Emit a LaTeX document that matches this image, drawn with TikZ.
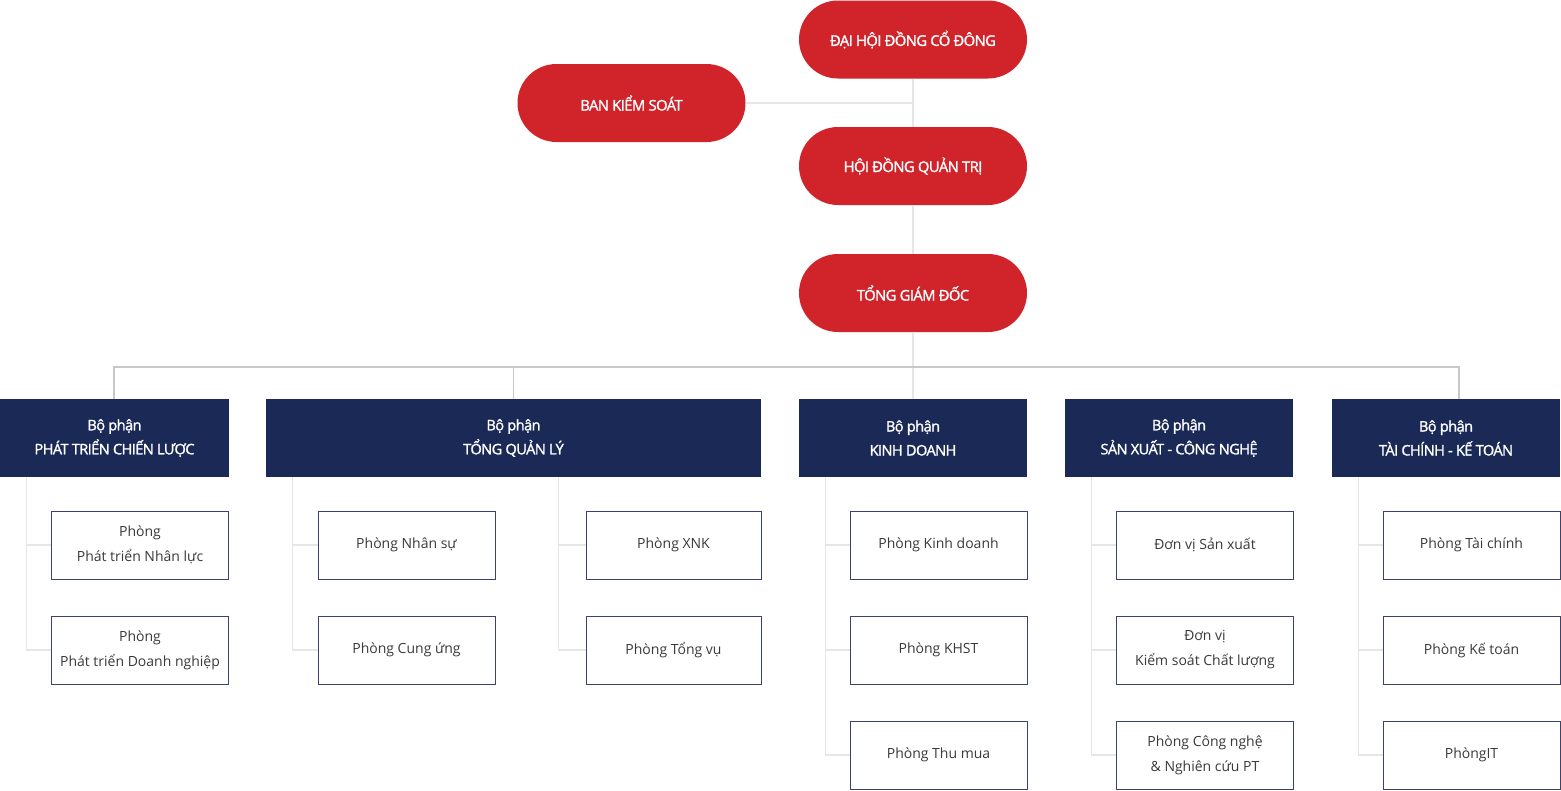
\documentclass[tikz,border=0pt]{standalone}
\usepackage{fontspec}
\setmainfont{Open Sans}
\newfontfamily\capsfont[LetterSpace=-4,FakeBold=1.5]{Open Sans}
\definecolor{cred}{HTML}{D0232A}
\definecolor{cnavy}{HTML}{1A2955}
\definecolor{cedge}{HTML}{3B4170}
\definecolor{ctext}{HTML}{3A3A3A}
\definecolor{cbus}{HTML}{C8C8C8}
\definecolor{clight}{HTML}{E6E6E6}
\tikzset{
  pill/.style={fill=cred, draw=none, rounded corners=39pt, minimum width=228pt, minimum height=78pt, inner sep=0pt, text=white, font=\capsfont\fontsize{14.8}{16}\selectfont, anchor=center},
  dept/.style={fill=cnavy, draw=none, minimum height=78pt, inner sep=0pt, text=white, align=center, font=\capsfont\fontsize{14.6}{24}\selectfont, anchor=center},
  unit/.style={fill=white, draw=cedge, line width=1pt, minimum width=177pt, minimum height=68pt, inner sep=0pt, text=ctext, align=center, font=\fontsize{14}{25}\selectfont, anchor=center},
  bus/.style={draw=cbus, line width=1.2pt},
  thin/.style={draw=clight, line width=1.2pt},
}
\begin{document}
\begin{tikzpicture}[x=1pt,y=-1pt]
\useasboundingbox (0,0) rectangle (1561,790);
% pills
\node[pill] (dh) at (913,39.5) {ĐẠI HỘI ĐỒNG CỔ ĐÔNG};
\node[pill] (bks) at (631.5,103) {BAN KIỂM SOÁT};
\node[pill] (hd) at (913,166) {HỘI ĐỒNG QUẢN TRỊ};
\node[pill] (tgd) at (913,293) {TỔNG GIÁM ĐỐC};
% departments
\node[dept, minimum width=229pt] (pk) at (114.5,438) {Bộ phận\\PHÁT TRIỂN CHIẾN LƯỢC};
\node[dept, minimum width=495pt] (ql) at (513.5,438) {Bộ phận\\TỔNG QUẢN LÝ};
\node[dept, minimum width=228pt] (kd) at (913,438) {Bộ phận\\KINH DOANH};
\node[dept, minimum width=228pt] (sx) at (1179,438) {Bộ phận\\SẢN XUẤT - CÔNG NGHỆ};
\node[dept, minimum width=228pt] (tc) at (1446,438) {Bộ phận\\TÀI CHÍNH - KẾ TOÁN};
% units
\node[unit] (p1) at (140,545) {Phòng\\Phát triển Nhân lực};
\node[unit] (p2) at (140,650) {Phòng\\Phát triển Doanh nghiệp};
\node[unit] (q1) at (406.5,545) {Phòng Nhân sự};
\node[unit] (q2) at (406.5,650) {Phòng Cung ứng};
\node[unit, minimum width=175pt] (q3) at (673.5,545) {Phòng XNK};
\node[unit, minimum width=175pt] (q4) at (673.5,650) {Phòng Tổng vụ};
\node[unit] (k1) at (938.5,545) {Phòng Kinh doanh};
\node[unit] (k2) at (938.5,650) {Phòng KHST};
\node[unit] (k3) at (938.5,755) {Phòng Thu mua};
\node[unit] (s1) at (1205,545) {Đơn vị Sản xuất};
\node[unit] (s2) at (1205,650) {Đơn vị\\Kiểm soát Chất lượng};
\node[unit] (s3) at (1205,755) {Phòng Công nghệ\\\& Nghiên cứu PT};
\node[unit] (t1) at (1471.5,545) {Phòng Tài chính};
\node[unit] (t2) at (1471.5,650) {Phòng Kế toán};
\node[unit] (t3) at (1471.5,755) {PhòngIT};
% top connectors
\draw[thin] (dh.south) -- (hd.north);
\draw[thin] (bks.east) -- (bks.east -| dh.south);
\draw[thin] (hd.south) -- (tgd.north);
\draw[thin] (tgd.south) -- (kd.north);
\coordinate (busl) at (114,367);
\draw[bus] (pk.north -| busl) -- (busl) -| ([xshift=13pt]tc.north);
\draw[bus] (ql.north) -- (ql.north |- busl);
% spines
\draw[thin] ([xshift=27pt]pk.south west) |- (p1.west);
\draw[thin] ([xshift=27pt]pk.south west) |- (p2.west);
\draw[thin] ([xshift=27pt]ql.south west) |- (q1.west);
\draw[thin] ([xshift=27pt]ql.south west) |- (q2.west);
\draw[thin] ([xshift=293pt]ql.south west) |- (q3.west);
\draw[thin] ([xshift=293pt]ql.south west) |- (q4.west);
\draw[thin] ([xshift=27pt]kd.south west) |- (k1.west);
\draw[thin] ([xshift=27pt]kd.south west) |- (k2.west);
\draw[thin] ([xshift=27pt]kd.south west) |- (k3.west);
\draw[thin] ([xshift=27pt]sx.south west) |- (s1.west);
\draw[thin] ([xshift=27pt]sx.south west) |- (s2.west);
\draw[thin] ([xshift=27pt]sx.south west) |- (s3.west);
\draw[thin] ([xshift=27pt]tc.south west) |- (t1.west);
\draw[thin] ([xshift=27pt]tc.south west) |- (t2.west);
\draw[thin] ([xshift=27pt]tc.south west) |- (t3.west);
\end{tikzpicture}
\end{document}
